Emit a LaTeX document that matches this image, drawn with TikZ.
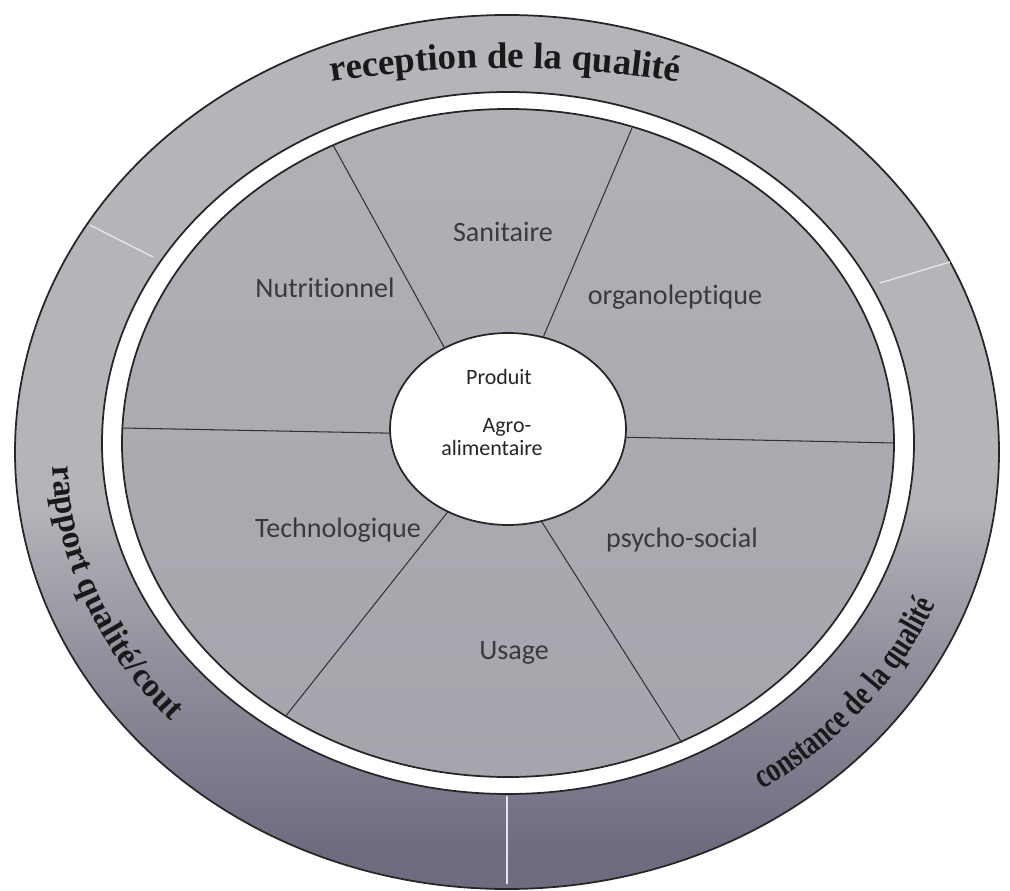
\documentclass[tikz,border=0pt]{standalone}
\usepackage{fontspec}
\usepackage{tikz}
\usepackage{xcolor}
\usetikzlibrary{shapes.geometric,decorations.text}
\setmainfont{Liberation Serif}
\newfontfamily\secfont[Ligatures=NoCommon]{Carlito}
\newfontfamily\narrowfont[FakeStretch=0.76]{Liberation Serif}

\definecolor{ringtop}{RGB}{180,180,185}
\definecolor{ringbot}{RGB}{112,106,128}
\definecolor{sector}{RGB}{176,176,181}
\definecolor{sectorbot}{RGB}{166,165,173}
\definecolor{labelgray}{RGB}{58,58,62}
\pgfdeclareverticalshading{ringshade}{100bp}{color(0bp)=(ringbot); color(27bp)=(ringbot); color(37bp)=(ringbot!55!ringtop); color(47bp)=(ringtop); color(100bp)=(ringtop)}

\tikzset{
  rim/.style={draw=black!85, line width=1pt},
  spoke/.style={draw=black!80, line width=0.6pt},
  divider/.style={draw=white!80!gray, line width=0.8pt},
  seclabel/.style={font=\secfont\fontsize{16}{16}\selectfont, text=labelgray},
  hublabel/.style={font=\secfont\fontsize{12.5}{12.5}\selectfont, text=black!85},
  arctext/.style={decorate, decoration={text along path, text align=center, text color=black!90}}
}

\begin{document}
\begin{tikzpicture}[x=0.02cm,y=0.02cm]
\useasboundingbox (0,0) rectangle (1010,890);
\fill[white] (0,0) rectangle (1010,890);

\path[rim, shading=ringshade] (507,438) ellipse [x radius=492, y radius=437];
\coordinate (d1a) at (90,665);  \coordinate (d1b) at (153,633);
\coordinate (d2a) at (950,628); \coordinate (d2b) at (880,607);
\coordinate (d3a) at (507,6);   \coordinate (d3b) at (507,94);
\draw[divider] (d1a) -- (d1b);
\draw[divider] (d2a) -- (d2b);
\draw[divider] (d3a) -- (d3b);

\path[rim, fill=white] (508,447) ellipse [x radius=406, y radius=351];
\path[rim, top color=sector, bottom color=sectorbot] (508,447) ellipse [x radius=386, y radius=334];

\node[ellipse, rim, fill=white, minimum width=4.72cm, minimum height=3.84cm, inner sep=0pt] (hub) at (508,461) {};

\coordinate (r1) at (333,745);
\coordinate (r2) at (632,762);
\coordinate (r3) at (122,462);
\coordinate (r4) at (894,447);
\coordinate (r5) at (285,173);
\coordinate (r6) at (682,147);
\draw[spoke] (hub.128) -- (r1);
\draw[spoke] (hub.69) -- (r2);
\draw[spoke] (hub.182) -- (r3);
\draw[spoke] (hub.356) -- (r4);
\draw[spoke] (hub.234) -- (r5);
\draw[spoke] (hub.290) -- (r6);

\node[seclabel] (san) at (503,658) {Sanitaire};
\node[seclabel] (nut) at (325,602) {Nutritionnel};
\node[seclabel] (org) at (675,593) {organoleptique};
\node[seclabel] (tec) at (338,360) {Technologique};
\node[seclabel] (psy) at (682,350) {psycho-social};
\node[seclabel] (usa) at (514,237) {Usage};

\node[hublabel] (pro) at (499,513) {Produit};
\node[hublabel] (agr) at (507,463) {Agro-};
\node[hublabel] (ali) at (492,442) {alimentaire};

\path[arctext, decoration={text={|\bfseries\fontsize{21}{21}\selectfont|reception de la qualité}}]
  ([shift={(505,-278)}]102:1100) arc[start angle=102, end angle=78, radius=1100];
\path[arctext, decoration={text={|\bfseries\fontsize{19}{19}\selectfont|rapport qualité/cout}}]
  ([shift={(507,438)}]163:455 and 400) arc[start angle=163, end angle=240, x radius=455, y radius=400];
\path[arctext, decoration={text={|\narrowfont\bfseries\fontsize{20}{20}\selectfont|constance de la qualité}}]
  ([shift={(507,438)}]-78:462 and 405) arc[start angle=-78, end angle=2, x radius=462, y radius=405];
\end{tikzpicture}
\end{document}
